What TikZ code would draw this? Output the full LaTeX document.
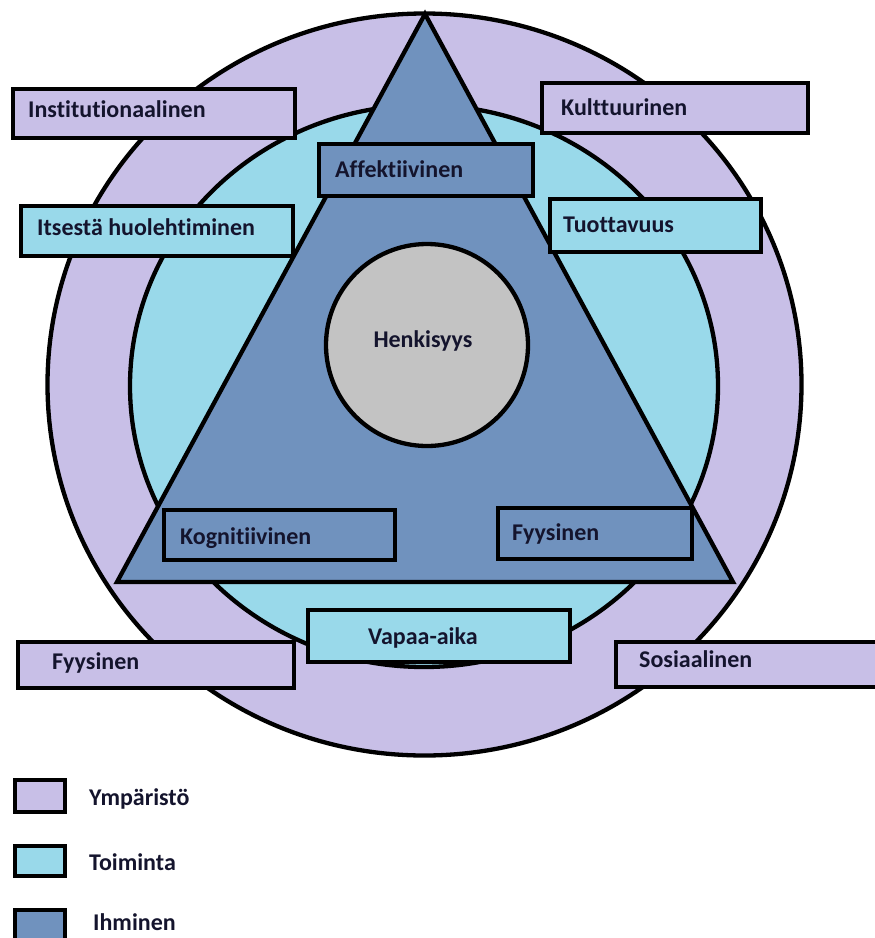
\documentclass[tikz,border=0pt]{standalone}
\usepackage{fontspec}
\setmainfont{Carlito}[Ligatures=NoCommon]
\usepackage{tikz}
\usetikzlibrary{positioning}

\definecolor{ympcol}{RGB}{200,191,231}
\definecolor{toicol}{RGB}{153,217,234}
\definecolor{ihmcol}{RGB}{112,146,190}
\definecolor{henkcol}{RGB}{195,195,195}
\definecolor{txtcol}{RGB}{20,20,45}

\tikzset{
  edge/.style={draw=black, line width=4.3pt},
  ymp/.style={edge, fill=ympcol, inner sep=0pt},
  toi/.style={edge, fill=toicol, inner sep=0pt},
  ihm/.style={edge, fill=ihmcol, inner sep=0pt},
  lbl/.style={anchor=base west, inner sep=0pt, text=txtcol,
              font=\fontsize{24}{28}\selectfont\bfseries},
}

\begin{document}
\begin{tikzpicture}[x=1pt, y=-1pt]
    \useasboundingbox (0,0) rectangle (875,938);

    % the three layers
    \draw[ymp] (424.5,384.5) ellipse [x radius=377, y radius=371];
    \draw[toi] (424,386) ellipse [x radius=294, y radius=281];
    \coordinate (top) at (425,14);
    \coordinate (left) at (117,582);
    \coordinate (right) at (733,582);
    \draw[ihm, line join=miter] (top) -- (left) -- (right) -- cycle;
    \node[edge, circle, fill=henkcol, minimum size=202pt, inner sep=0pt] (henki) at (427,345) {};
    \node[lbl, anchor=base] (henkit) at (423,347) {Henkisyys};

    % outer ring: environment
    \node[ymp, minimum width=282pt, minimum height=49pt] (inst) at (154,113.5) {};
    \node[ymp, minimum width=266pt, minimum height=50pt] (kult) at (675,108) {};
    \node[ymp, minimum width=276pt, minimum height=46pt] (fyysy) at (156,665) {};
    \node[ymp, minimum width=262pt, minimum height=45pt] (sosi) at (747,664.5) {};
    \node[lbl] (instt) at (28,117) {Institutionaalinen};
    \node[lbl] (kultt) at (561,115) {Kulttuurinen};
    \node[lbl] (fyysyt) at (52,669) {Fyysinen};
    \node[lbl] (sosit) at (639,667) {Sosiaalinen};

    % middle ring: activity
    \node[toi, minimum width=272pt, minimum height=50pt] (itse) at (157,231) {};
    \node[toi, minimum width=211pt, minimum height=53pt] (tuot) at (655.5,225.5) {};
    \node[toi, minimum width=262pt, minimum height=52pt] (vapa) at (439,636) {};
    \node[lbl] (itset) at (37,235) {Itsestä huolehtiminen};
    \node[lbl] (tuott) at (563,232) {Tuottavuus};
    \node[lbl] (vapat) at (368,644) {Vapaa-aika};

    % triangle: person
    \node[ihm, minimum width=214pt, minimum height=52pt] (affe) at (426,170) {};
    \node[ihm, minimum width=231pt, minimum height=50pt] (kogn) at (279.5,535) {};
    \node[ihm, minimum width=194pt, minimum height=51pt] (fyysi) at (595,533.5) {};
    \node[lbl] (affet) at (335,177) {Affektiivinen};
    \node[lbl] (kognt) at (180,544) {Kognitiivinen};
    \node[lbl] (fyysit) at (512,540) {Fyysinen};

    % legend
    \foreach \n/\s/\y/\h/\t/\tx/\b in {y/ymp/796/32/Ympäristö/89/805,
                                       t/toi/861/30/Toiminta/89/870,
                                       i/ihm/927/34/Ihminen/93/930} {
      \node[\s, minimum width=50pt, minimum height=\h pt] (leg\n) at (40,\y) {};
      \node[lbl] (leg\n t) at (\tx,\b) {\t};
    };
\end{tikzpicture}
\end{document}
